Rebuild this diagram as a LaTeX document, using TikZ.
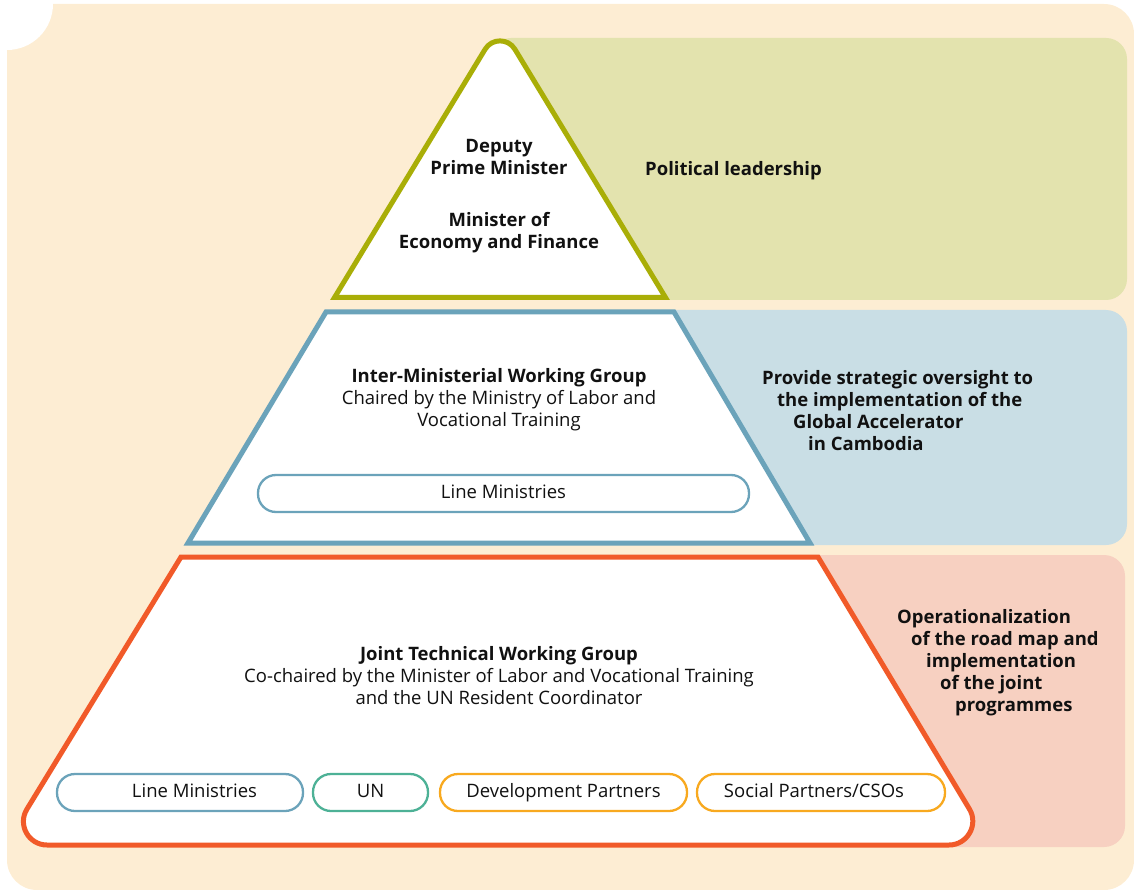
\documentclass[tikz,border=0pt]{standalone}
\usepackage{fontspec}
\setmainfont{Open Sans}
\definecolor{cream}{HTML}{FDEDD3}
\definecolor{greenp}{HTML}{E3E3AE}
\definecolor{olivestroke}{HTML}{A9AE07}
\definecolor{bluep}{HTML}{C9DEE5}
\definecolor{bluestroke}{HTML}{6BA3BA}
\definecolor{pinkp}{HTML}{F7D0C1}
\definecolor{redstroke}{HTML}{F15A29}
\definecolor{tealstroke}{HTML}{4DB196}
\definecolor{orangestroke}{HTML}{F8A91F}
\definecolor{ink}{HTML}{111111}
\begin{document}
\begin{tikzpicture}[x=1pt,y=-1pt,
  txt/.style={inner sep=0pt, text=ink, font=\fontsize{18.5}{22}\selectfont},
  boldtxt/.style={txt, font=\fontsize{18.5}{22}\selectfont\bfseries},
  level/.style={line width=5pt, fill=white, line join=miter},
  pill/.style={line width=2.3pt, fill=white, rounded corners=18pt, minimum height=37pt, inner sep=0pt, text height=13pt, text depth=4pt, text=ink, font=\fontsize{18.5}{22}\selectfont},
  panel/.style={rounded corners=21pt}
]
\useasboundingbox (0,0) rectangle (1134,890);
% background
\fill[cream, rounded corners=30pt] (7,4) rectangle (1134,890);
\fill[white] (7,4) circle (46);
% side panels
\fill[greenp, panel] (490,38) rectangle (1127,300);
\fill[bluep, panel] (640,310) rectangle (1127,545);
\fill[pinkp, panel] (790,555) rectangle (1125,847);
% level 1 triangle
\draw[level, draw=olivestroke] (334.5,297.5) -- (485.15,49.2) .. controls (491.9,38.1) and (508.1,38.1) .. (514.85,49.2) -- (665.5,297.5) -- cycle;
% level 2 trapezoid
\draw[level, draw=bluestroke] (326,312) -- (674,312) -- (810,543) -- (188,543) -- cycle;
% level 3 trapezoid
\draw[level, draw=redstroke] (181,557) -- (818,557) -- (969.4,809.0) .. controls (978.9,824.8) and (967.4,845) .. (949,845)
  -- (47,845) .. controls (28.6,845) and (17.3,824.9) .. (26.9,809.2) -- cycle;
% texts level 1
\node[boldtxt, align=center] (lead) at (499,196) {Deputy\\Prime Minister\\[30pt]Minister of\\Economy and Finance};
\node[boldtxt, anchor=west] (pol) at (645,171) {Political leadership};
% level 2
\node[txt, align=center] (imwg) at (499,400) {\textbf{Inter-Ministerial Working Group}\\Chaired by the Ministry of Labor and\\Vocational Training};
\node[pill, draw=bluestroke, minimum width=491pt] (lm1) at (503.5,493.5) {Line Ministries};
\node[boldtxt, anchor=west, align=left] (strat) at (762,411) {Provide strategic oversight to\\\hspace*{15pt}the implementation of the\\\hspace*{31pt}Global Accelerator\\\hspace*{46pt}in Cambodia};
% level 3
\node[txt, align=center] (jtwg) at (499,676) {\textbf{Joint Technical Working Group}\\Co-chaired by the Minister of Labor and Vocational Training\\and the UN Resident Coordinator};
\node[pill, draw=bluestroke, minimum width=246pt] (lm2) at (180,792.5) {\hspace*{29pt}Line Ministries};
\node[pill, draw=tealstroke, minimum width=115pt] (un) at (370.5,792.5) {UN};
\node[pill, draw=orangestroke, minimum width=247pt] (dp) at (563.5,792.5) {Development Partners};
\node[pill, draw=orangestroke, minimum width=248pt] (sp) at (821,792.5) {Social Partners/CSOs\hspace*{14pt}};
\node[boldtxt, anchor=west, align=left] (oper) at (897,663) {Operationalization\\\hspace*{14pt}of the road map and\\\hspace*{29pt}implementation\\\hspace*{43pt}of the joint\\\hspace*{58pt}programmes};
\end{tikzpicture}
\end{document}
